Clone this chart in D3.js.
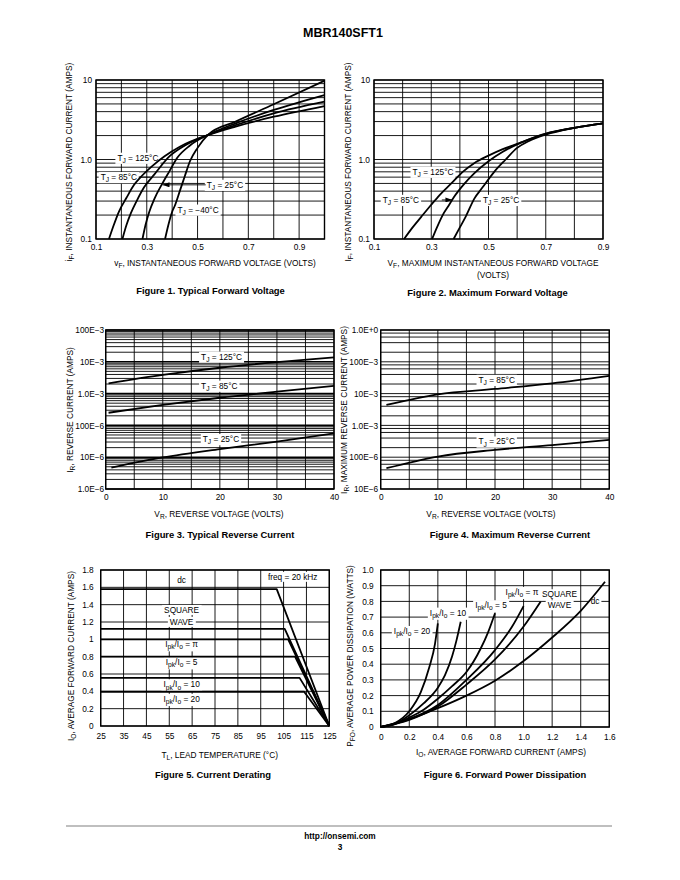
<!DOCTYPE html>
<html><head><meta charset="utf-8">
<script src="https://cdn.jsdelivr.net/npm/d3@7"></script>
<style>body{margin:0;background:#fff}</style>
</head><body><svg id="c" width="680" height="880"></svg>
<script>
// ---------------- DATA ----------------
// Figure 1: typical forward voltage [V, A]
const fig1_125C = [[0.151,0.1],[0.17,0.15],[0.19,0.22],[0.22,0.33],[0.25,0.48],[0.28,0.62],[0.32,0.82],[0.37,1.1],[0.43,1.45],[0.54,2.03],[0.65,2.6],[0.8,3.45],[1.0,4.7]];
const fig1_85C  = [[0.204,0.1],[0.22,0.15],[0.237,0.21],[0.26,0.3],[0.29,0.45],[0.33,0.65],[0.39,1.1],[0.45,1.5],[0.54,2.03],[0.65,2.7],[0.8,3.8],[1.0,5.33]];
const fig1_25C  = [[0.283,0.1],[0.295,0.15],[0.31,0.22],[0.33,0.32],[0.36,0.49],[0.39,0.72],[0.42,1.05],[0.47,1.5],[0.54,2.03],[0.65,2.85],[0.8,4.2],[1.0,6.47]];
const fig1_m40C = [[0.372,0.1],[0.385,0.15],[0.4,0.22],[0.41,0.26],[0.43,0.4],[0.45,0.62],[0.47,0.95],[0.5,1.4],[0.54,2.03],[0.65,3.0],[0.8,4.95],[1.0,9.8]];
const fig1XTicks = [0.1,0.3,0.5,0.7,0.9];
const fig1XTickLabels = ["0.1","0.3","0.5","0.7","0.9"];
const fig1YTicks = [10,1,0.1];
const fig1YTickLabels = ["10","1.0","0.1"];

// Figure 2: maximum forward voltage [V, A]
const fig2_125C = [[0.205,0.1],[0.235,0.14],[0.265,0.19],[0.3,0.27],[0.33,0.36],[0.37,0.5],[0.41,0.7],[0.45,0.9],[0.5,1.12],[0.55,1.35],[0.6,1.57],[0.7,2.12],[0.8,2.5],[0.9,2.85]];
const fig2_85C  = [[0.303,0.1],[0.32,0.14],[0.34,0.2],[0.36,0.26],[0.38,0.34],[0.41,0.47],[0.45,0.67],[0.5,0.95],[0.55,1.25],[0.6,1.55],[0.7,2.1],[0.8,2.5],[0.9,2.85]];
const fig2_25C  = [[0.378,0.1],[0.4,0.14],[0.42,0.19],[0.45,0.32],[0.48,0.45],[0.52,0.7],[0.56,1.0],[0.6,1.4],[0.64,1.7],[0.7,2.06],[0.8,2.5],[0.9,2.85]];
const fig2XTicks = [0.1,0.3,0.5,0.7,0.9];
const fig2XTickLabels = ["0.1","0.3","0.5","0.7","0.9"];
const fig2YTicks = [10,1,0.1];
const fig2YTickLabels = ["10","1.0","0.1"];

// Figure 3: typical reverse current [V, A]
const fig3_125C = [[0.5,2.1e-3],[10,3.85e-3],[20,6.5e-3],[30,9.8e-3],[40,1.38e-2]];
const fig3_85C  = [[0.5,2.5e-4],[10,4.4e-4],[20,7.4e-4],[30,1.15e-3],[40,1.74e-3]];
const fig3_25C  = [[1,4.7e-6],[10,9.8e-6],[20,1.8e-5],[30,3.1e-5],[40,5.6e-5]];
const fig3XTicks = [0,10,20,30,40];
const fig3XTickLabels = ["0","10","20","30","40"];
const fig3YTicks = [1e-1,1e-2,1e-3,1e-4,1e-5,1e-6];
const fig3YTickLabels = ["100E\u22123","10E\u22123","1.0E\u22123","100E\u22126","10E\u22126","1.0E\u22126"];

// Figure 4: maximum reverse current [V, A]
const fig4_85C = [[1,4.4e-3],[10,9.5e-3],[20,1.4e-2],[30,2.1e-2],[40,3.6e-2]];
const fig4_25C = [[1,4.5e-5],[10,1.05e-4],[20,1.7e-4],[30,2.4e-4],[40,3.5e-4]];
const fig4XTicks = [0,10,20,30,40];
const fig4XTickLabels = ["0","10","20","30","40"];
const fig4YTicks = [1,1e-1,1e-2,1e-3,1e-4,1e-5];
const fig4YTickLabels = ["1.0E+0","100E\u22123","10E\u22123","1.0E\u22123","100E\u22126","10E\u22126"];

// Figure 5: current derating [°C, A]
const fig5_dc  = [[25,1.58],[102,1.58],[125,0]];
const fig5_sq  = [[25,1.12],[105.5,1.12],[125,0]];
const fig5_pi  = [[25,1.0],[107,1.0],[125,0]];
const fig5_5   = [[25,0.8],[110,0.8],[125,0]];
const fig5_10  = [[25,0.555],[112,0.555],[125,0]];
const fig5_20  = [[25,0.395],[114,0.395],[125,0]];
const fig5XTicks = [25,35,45,55,65,75,85,95,105,115,125];
const fig5XTickLabels = ["25","35","45","55","65","75","85","95","105","115","125"];
const fig5YTicks = [0,0.2,0.4,0.6,0.8,1,1.2,1.4,1.6,1.8];
const fig5YTickLabels = ["0","0.2","0.4","0.6","0.8","1","1.2","1.4","1.6","1.8"];

// Figure 6: forward power dissipation [A, W]
const fig6_20 = [[0,0],[0.1,0.025],[0.2,0.1],[0.28,0.22],[0.34,0.38],[0.38,0.53],[0.40,0.66]];
const fig6_10 = [[0,0],[0.1,0.02],[0.2,0.075],[0.3,0.15],[0.4,0.25],[0.45,0.33],[0.5,0.45],[0.53,0.55],[0.56,0.67]];
const fig6_5  = [[0,0],[0.1,0.018],[0.2,0.06],[0.3,0.11],[0.4,0.18],[0.5,0.26],[0.6,0.35],[0.7,0.5],[0.75,0.6],[0.8,0.725]];
const fig6_pi = [[0,0],[0.2,0.05],[0.4,0.14],[0.6,0.3],[0.8,0.49],[0.92,0.64],[1.0,0.77]];
const fig6_sq = [[0,0],[0.2,0.045],[0.4,0.13],[0.6,0.27],[0.8,0.43],[1.0,0.64],[1.12,0.8]];
const fig6_dc = [[0,0],[0.2,0.05],[0.4,0.12],[0.6,0.2],[0.8,0.295],[1.0,0.42],[1.2,0.57],[1.4,0.74],[1.57,0.925]];
const fig6XTicks = [0,0.2,0.4,0.6,0.8,1.0,1.2,1.4,1.6];
const fig6XTickLabels = ["0","0.2","0.4","0.6","0.8","1.0","1.2","1.4","1.6"];
const fig6YTicks = [0,0.1,0.2,0.3,0.4,0.5,0.6,0.7,0.8,0.9,1.0];
const fig6YTickLabels = ["0","0.1","0.2","0.3","0.4","0.5","0.6","0.7","0.8","0.9","1.0"];

// ---------------- DRAWING ----------------
const FONT = '"Liberation Sans", Arial, Helvetica, sans-serif';
const FS = 8.3;
const svg = d3.select("#c");
svg.append("rect").attr("width",680).attr("height",880).attr("fill","#fff");
const defs = svg.append("defs");
defs.append("marker").attr("id","arr").attr("viewBox","0 0 7 5").attr("refX",7).attr("refY",2.5)
  .attr("markerWidth",7).attr("markerHeight",5).attr("markerUnits","userSpaceOnUse").attr("orient","auto")
  .append("path").attr("d","M0,0L7,2.5L0,5z").attr("fill","#000");

function rich(t, parts) {
  let sub = false;
  parts.forEach(p => {
    const s = !!p[1];
    const ts = t.append("tspan").text(p[0]);
    if (s && !sub) ts.attr("dy", 2.2).attr("font-size", "0.8em");
    else if (s) ts.attr("font-size", "0.8em");
    else if (!s && sub) ts.attr("dy", -2.2);
    sub = s;
  });
  return t;
}
function logGrid(k0, k1, ms) {
  const out = [];
  for (let k = k0; k < k1; k++) ms.forEach(m => out.push(m * Math.pow(10, k)));
  out.push(Math.pow(10, k1));
  return out;
}
function txt(x, y, parts, opt = {}) {
  const t = svg.append("text").attr("x", x).attr("y", y)
    .attr("font-family", FONT).attr("font-size", opt.fs || FS).attr("fill", "#000")
    .attr("text-anchor", opt.anchor || "middle").attr("font-weight", opt.bold ? "bold" : null);
  if (opt.rot) t.attr("transform", `rotate(-90,${x},${y})`);
  rich(t, parts);
  return t;
}

function panel(o) {
  const x = d3.scaleLinear().domain(o.xDomain).range([o.left, o.right]);
  const y = (o.log ? d3.scaleLog() : d3.scaleLinear()).domain(o.yDomain).range([o.bottom, o.top]);
  const g = svg.append("g");
  const grid = g.append("g"), bg = g.append("g"), lay = g.append("g"), tl = g.append("g");
  grid.selectAll("line.v").data(o.xGrid).join("line").attr("class","v")
    .attr("x1", d => x(d)).attr("x2", d => x(d)).attr("y1", o.top).attr("y2", o.bottom)
    .attr("stroke", "#000").attr("stroke-width", 0.9);
  grid.selectAll("line.h").data(o.yGrid).join("line").attr("class","h")
    .attr("x1", o.left).attr("x2", o.right).attr("y1", d => y(d)).attr("y2", d => y(d))
    .attr("stroke", "#000").attr("stroke-width", d => (o.boldDecades && Math.abs(Math.log10(d) - Math.round(Math.log10(d))) < 1e-6) ? 1.6 : 0.9);
  grid.append("rect").attr("x", o.left).attr("y", o.top).attr("width", o.right - o.left).attr("height", o.bottom - o.top)
    .attr("fill", "none").attr("stroke", "#000").attr("stroke-width", 1.4);

  const ax = d3.axisBottom(x).tickValues(o.xTicks).tickFormat((d, i) => o.xTickLabels[i]).tickSize(0).tickPadding(o.xPad);
  const gx = g.append("g").attr("transform", `translate(0,${o.bottom})`).call(ax);
  gx.select(".domain").remove();
  gx.attr("font-family", FONT).attr("font-size", FS);
  gx.selectAll("text").attr("fill", "#000");
  const ay = d3.axisLeft(y).tickValues(o.yTicks).tickFormat((d, i) => o.yTickLabels[i]).tickSize(0).tickPadding(o.yPad);
  const gy = g.append("g").attr("transform", `translate(${o.left},0)`).call(ay);
  gy.select(".domain").remove();
  gy.attr("font-family", FONT).attr("font-size", FS);
  gy.selectAll("text").attr("fill", "#000");

  const line = d3.line().x(d => x(d[0])).y(d => y(d[1])).curve(o.curve || d3.curveMonotoneX);
  lay.selectAll("path").data(o.series).join("path").attr("d", line)
    .attr("fill", "none").attr("stroke", "#000").attr("stroke-width", 1.8).attr("stroke-linejoin","round");

  (o.labels || []).forEach(l => {
    const t = tl.append("text").attr("x", x(l.x)).attr("y", y(l.y)).attr("dy", "0.35em")
      .attr("text-anchor", "middle").attr("font-family", FONT).attr("font-size", FS).attr("fill", "#000");
    rich(t, l.t);
    const b = t.node().getBBox();
    bg.append("rect").attr("x", b.x - 2).attr("y", b.y).attr("width", b.width + 4).attr("height", b.height).attr("fill", "#fff");
  });
  (o.arrows || []).forEach(a => {
    tl.append("line").attr("x1", x(a.x1)).attr("y1", y(a.y)).attr("x2", x(a.x2)).attr("y2", y(a.y))
      .attr("stroke", "#000").attr("stroke-width", 0.9).attr("marker-end", a.head ? "url(#arr)" : null);
  });
}

const TJ = (s) => [["T"],["J",1],[" = " + s]];
const IPK = (s) => [["I"],["pk",1],["/I"],["o",1],[" = " + s]];

// Figure 1
panel({
  left: 96, right: 324.5, top: 80, bottom: 239, xDomain: [0.1, 1.0], yDomain: [0.1, 10], log: true,
  xGrid: d3.range(0.1, 1.001, 0.1), yGrid: logGrid(-1, 1, [1,2,3,4,5,6,7,8,9]),
  xTicks: fig1XTicks, xTickLabels: fig1XTickLabels, yTicks: fig1YTicks, yTickLabels: fig1YTickLabels,
  xPad: 5.5, yPad: 4,
  series: [fig1_125C, fig1_85C, fig1_25C, fig1_m40C],
  labels: [
    {t: TJ("125°C"), x: 0.265, y: 1.05},
    {t: TJ("85°C"), x: 0.19, y: 0.6},
    {t: TJ("25°C"), x: 0.608, y: 0.48},
    {t: TJ("\u221240°C"), x: 0.502, y: 0.234}
  ],
  arrows: [{x1: 0.532, x2: 0.362, y: 0.48, head: true}, {x1: 0.268, x2: 0.315, y: 0.6}]
});
// Figure 2
panel({
  left: 374, right: 603, top: 80, bottom: 239, xDomain: [0.1, 0.9], yDomain: [0.1, 10], log: true,
  xGrid: d3.range(0.1, 0.901, 0.1), yGrid: logGrid(-1, 1, [1,2,3,4,5,6,7,8,9]),
  xTicks: fig2XTicks, xTickLabels: fig2XTickLabels, yTicks: fig2YTicks, yTickLabels: fig2YTickLabels,
  xPad: 5.5, yPad: 4,
  series: [fig2_125C, fig2_85C, fig2_25C],
  labels: [
    {t: TJ("125°C"), x: 0.306, y: 0.7},
    {t: TJ("85°C"), x: 0.194, y: 0.31},
    {t: TJ("25°C"), x: 0.544, y: 0.31}
  ],
  arrows: [{x1: 0.337, x2: 0.374, y: 0.31, head: true}]
});
// Figure 3
panel({
  left: 105.7, right: 334, top: 330, bottom: 489, xDomain: [0, 40], yDomain: [1e-6, 1e-1], log: true, boldDecades: true,
  xGrid: d3.range(0, 40.1, 5), yGrid: logGrid(-6, -1, [1,2,3,4,5,6,7,8,9]),
  xTicks: fig3XTicks, xTickLabels: fig3XTickLabels, yTicks: fig3YTicks, yTickLabels: fig3YTickLabels,
  xPad: 5.5, yPad: 1.5,
  series: [fig3_125C, fig3_85C, fig3_25C],
  labels: [
    {t: TJ("125°C"), x: 20.3, y: 1.45e-2},
    {t: TJ("85°C"), x: 19.9, y: 1.77e-3},
    {t: TJ("25°C"), x: 20.2, y: 3.7e-5}
  ]
});
// Figure 4
panel({
  left: 380.7, right: 609.3, top: 330, bottom: 489, xDomain: [0, 40], yDomain: [1e-5, 1], log: true,
  xGrid: d3.range(0, 40.1, 5), yGrid: logGrid(-5, 0, [1,2,4,6,8]),
  xTicks: fig4XTicks, xTickLabels: fig4XTickLabels, yTicks: fig4YTicks, yTickLabels: fig4YTickLabels,
  xPad: 5.5, yPad: 2.5,
  series: [fig4_85C, fig4_25C],
  labels: [
    {t: TJ("85°C"), x: 20.3, y: 2.7e-2},
    {t: TJ("25°C"), x: 20.3, y: 3.1e-4}
  ]
});
// Figure 5
panel({
  left: 100.7, right: 329.3, top: 570, bottom: 726, xDomain: [25, 125], yDomain: [0, 1.8],
  xGrid: d3.range(25, 126, 10), yGrid: d3.range(0, 1.81, 0.2),
  xTicks: fig5XTicks, xTickLabels: fig5XTickLabels, yTicks: fig5YTicks, yTickLabels: fig5YTickLabels,
  xPad: 7.5, yPad: 7, curve: d3.curveLinear,
  series: [fig5_dc, fig5_sq, fig5_pi, fig5_5, fig5_10, fig5_20],
  labels: [
    {t: [["dc"]], x: 60.4, y: 1.685},
    {t: [["freq = 20 kHz"]], x: 109, y: 1.72},
    {t: [["SQUARE"]], x: 60.4, y: 1.338},
    {t: [["WAVE"]], x: 60.4, y: 1.2},
    {t: IPK("\u03c0"), x: 60.4, y: 0.943},
    {t: IPK("5"), x: 60.4, y: 0.735},
    {t: IPK("10"), x: 60.4, y: 0.48},
    {t: IPK("20"), x: 60.4, y: 0.312}
  ]
});
// Figure 6
panel({
  left: 380.7, right: 609.3, top: 570, bottom: 727, xDomain: [0, 1.6], yDomain: [0, 1.0],
  xGrid: d3.range(0, 1.601, 0.2), yGrid: d3.range(0, 1.001, 0.1),
  xTicks: fig6XTicks, xTickLabels: fig6XTickLabels, yTicks: fig6YTicks, yTickLabels: fig6YTickLabels,
  xPad: 7.5, yPad: 7,
  series: [fig6_20, fig6_10, fig6_5, fig6_pi, fig6_sq, fig6_dc],
  labels: [
    {t: IPK("20"), x: 0.219, y: 0.611},
    {t: IPK("10"), x: 0.471, y: 0.728},
    {t: IPK("5"), x: 0.772, y: 0.775},
    {t: IPK("\u03c0"), x: 0.989, y: 0.86},
    {t: [["SQUARE"]], x: 1.251, y: 0.845},
    {t: [["WAVE"]], x: 1.251, y: 0.775},
    {t: [["dc"]], x: 1.5, y: 0.803}
  ]
});

// Titles & captions
txt(343, 37, [["MBR140SFT1"]], {bold: true, fs: 12.5});
// Fig 1
txt(71.5, 162, [["i"],["F",1],[", INSTANTANEOUS FORWARD CURRENT (AMPS)"]], {rot: true});
txt(215, 266, [["v"],["F",1],[", INSTANTANEOUS FORWARD VOLTAGE (VOLTS)"]]);
txt(210.5, 294, [["Figure 1. Typical Forward Voltage"]], {bold: true, fs: 9.4});
// Fig 2
txt(351, 162, [["I"],["F",1],[", INSTANTANEOUS FORWARD CURRENT (AMPS)"]], {rot: true});
txt(493, 266, [["V"],["F",1],[", MAXIMUM INSTANTANEOUS FORWARD VOLTAGE"]]);
txt(493, 278, [["(VOLTS)"]]);
txt(487.5, 295.5, [["Figure 2. Maximum Forward Voltage"]], {bold: true, fs: 9.4});
// Fig 3
txt(72.5, 410, [["I"],["R",1],[", REVERSE CURRENT (AMPS)"]], {rot: true});
txt(219, 517, [["V"],["R",1],[", REVERSE VOLTAGE (VOLTS)"]]);
txt(220, 538, [["Figure 3. Typical Reverse Current"]], {bold: true, fs: 9.4});
// Fig 4
txt(347, 410, [["I"],["R",1],[", MAXIMUM REVERSE CURRENT (AMPS)"]], {rot: true});
txt(491, 517, [["V"],["R",1],[", REVERSE VOLTAGE (VOLTS)"]]);
txt(510, 538, [["Figure 4. Maximum Reverse Current"]], {bold: true, fs: 9.4});
// Fig 5
txt(73.5, 656, [["I"],["O",1],[", AVERAGE FORWARD CURRENT (AMPS)"]], {rot: true});
txt(219.7, 757.5, [["T"],["L",1],[", LEAD TEMPERATURE (°C)"]]);
txt(213, 778, [["Figure 5. Current Derating"]], {bold: true, fs: 9.4});
// Fig 6
txt(352.5, 656, [["P"],["FO",1],[", AVERAGE POWER DISSIPATION (WATTS)"]], {rot: true});
txt(501, 754.5, [["I"],["O",1],[", AVERAGE FORWARD CURRENT (AMPS)"]]);
txt(505, 778, [["Figure 6. Forward Power Dissipation"]], {bold: true, fs: 9.4});

// Footer
svg.append("line").attr("x1", 66).attr("x2", 612).attr("y1", 826).attr("y2", 826).attr("stroke", "#aaa").attr("stroke-width", 1.5);
txt(340, 839, [["http://onsemi.com"]], {bold: true, fs: 8.3});
txt(340, 850, [["3"]], {bold: true, fs: 8.3});
</script></body></html>
